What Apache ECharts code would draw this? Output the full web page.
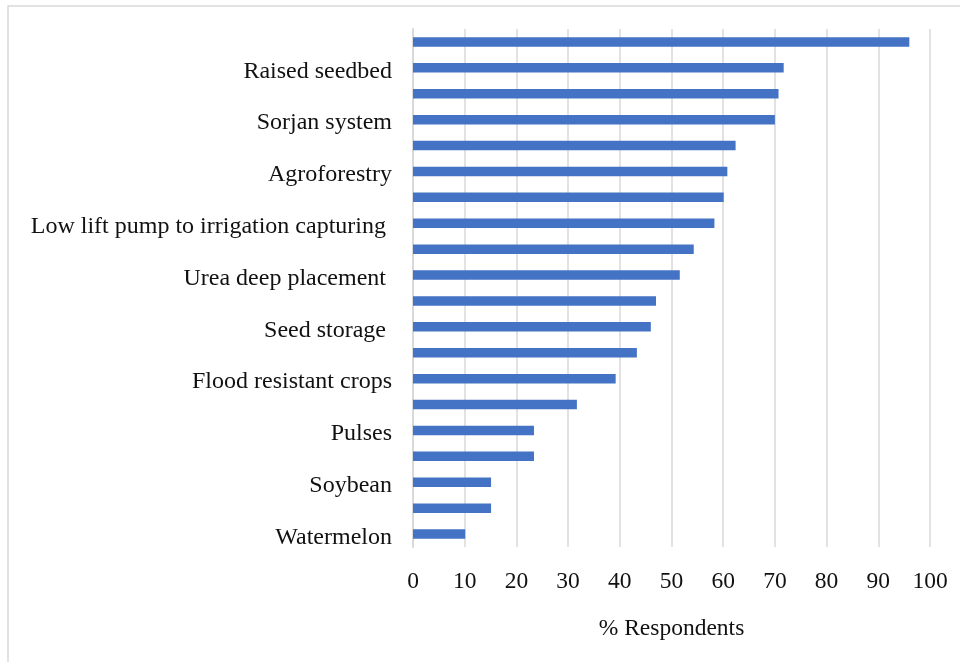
<!DOCTYPE html>
<html>
<head>
<meta charset="utf-8">
<script src="https://cdn.jsdelivr.net/npm/echarts@6/dist/echarts.min.js"></script>
<style>html,body{margin:0;padding:0;background:#fff;}#c{width:960px;height:662px;}</style>
</head>
<body>
<div id="c"></div>
<script>
// Categories listed top to bottom; unlabeled rows in the reference are left blank
const categories = [
  "", "Raised seedbed", "", "Sorjan system", "", "Agroforestry", "",
  "Low lift pump to irrigation capturing ", "", "Urea deep placement ", "",
  "Seed storage ", "", "Flood resistant crops", "", "Pulses", "", "Soybean", "", "Watermelon"
];
const values = [96, 71.7, 70.7, 70, 62.4, 60.8, 60.1, 58.3, 54.3, 51.6, 47, 46, 43.3, 39.2, 31.7, 23.4, 23.4, 15.1, 15.1, 10.1];
const xTicks = { min: 0, max: 100, interval: 10 };
const axisName = "% Respondents";

const chart = echarts.init(document.getElementById('c'), null, { renderer: 'canvas' });
const font = "'Liberation Serif', 'Times New Roman', serif";
chart.setOption({
  backgroundColor: '#ffffff',
  animation: false,
  graphic: [{
    type: 'rect', silent: true, z: -1,
    shape: { x: 8, y: 6, width: 1000, height: 700 },
    style: { fill: 'none', stroke: '#d9d9d9', lineWidth: 1.5 }
  }],
  grid: { left: 413, right: 30, top: 29, bottom: 115, containLabel: false },
  xAxis: {
    type: 'value', min: xTicks.min, max: xTicks.max, interval: xTicks.interval,
    axisLine: { show: false }, axisTick: { show: false },
    splitLine: { show: true, lineStyle: { color: '#d9d9d9', width: 1.5 } },
    axisLabel: { color: '#111', fontFamily: font, fontSize: 23.5, margin: 23 },
    name: axisName, nameLocation: 'middle', nameGap: 70,
    nameTextStyle: { color: '#111', fontFamily: font, fontSize: 23.5 }
  },
  yAxis: {
    type: 'category', inverse: true, data: categories,
    axisLine: { show: true, lineStyle: { color: '#d9d9d9', width: 2 } },
    axisTick: { show: false },
    axisLabel: {
      interval: 0, color: '#111', fontFamily: font, fontSize: 24, margin: 21,
      formatter: v => v ? '{a|' + v + '}' : '',
      rich: { a: { color: '#111', fontFamily: font, fontSize: 24, padding: [7, 0, 0, 0] } }
    }
  },
  series: [{
    type: 'bar', data: values, barWidth: 9.5,
    itemStyle: { color: '#4472C4' }
  }]
});
</script>
</body>
</html>
